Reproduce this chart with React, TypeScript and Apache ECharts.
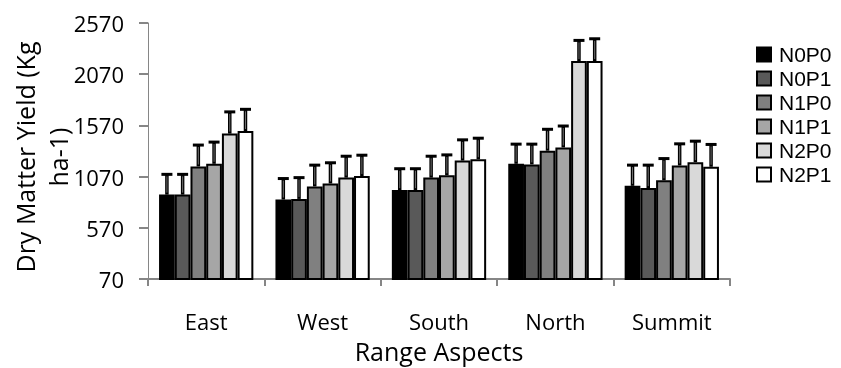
import React, { useEffect, useRef } from "react";
import * as echarts from "echarts";

const categories = ["East", "West", "South", "North", "Summit"];
const seriesNames = ["N0P0", "N0P1", "N1P0", "N1P1", "N2P0", "N2P1"];
const yTicks = [70, 570, 1070, 1570, 2070, 2570];

const n0p0 = [894, 846, 938, 1195, 980];
const n0p1 = [894, 852, 938, 1189, 958];
const n1p0 = [1169, 974, 1060, 1323, 1034];
const n1p1 = [1195, 1003, 1083, 1355, 1179];
const n2p0 = [1490, 1060, 1227, 2198, 1211];
const n2p1 = [1515, 1076, 1240, 2198, 1166];

const err0 = [198, 205, 209, 192, 202];
const err1 = [198, 208, 209, 198, 224];
const err2 = [209, 208, 209, 209, 212];
const err3 = [212, 202, 199, 209, 211];
const err4 = [212, 209, 202, 202, 205];
const err5 = [212, 203, 205, 218, 218];

const values = [n0p0, n0p1, n1p0, n1p1, n2p0, n2p1];
const errors = [err0, err1, err2, err3, err4, err5];
const colors = ["#000000", "#595959", "#808080", "#a6a6a6", "#d9d9d9", "#ffffff"];

const FONT = "Open Sans";
const LEGEND_FONT = "Liberation Sans";
const GAP = 0.19;

export default function App() {
  const ref = useRef<HTMLDivElement>(null);
  useEffect(() => {
    if (!ref.current) return;
    const chart = echarts.init(ref.current, undefined, { renderer: "svg" });
    const errData: number[][] = [];
    values.forEach((arr, s) => {
      arr.forEach((v, c) => {
        errData.push([c, s, v, v + errors[s][c]]);
      });
    });
    const barSeries = seriesNames.map((name, i) => ({
      name,
      type: "bar",
      data: values[i],
      barGap: "0%",
      barCategoryGap: GAP * 100 + "%",
      itemStyle: { color: colors[i], borderColor: "#000", borderWidth: 2 },
      z: 2,
    }));
    chart.setOption({
      animation: false,
      textStyle: { fontFamily: FONT, color: "#000" },
      grid: { left: 148, right: 111, top: 23, bottom: 86 },
      legend: {
        data: seriesNames,
        orient: "vertical",
        left: 756,
        top: 43,
        padding: 0,
        itemWidth: 14,
        itemHeight: 14,
        itemGap: 1,
        icon: "rect",
        textStyle: { fontSize: 21, lineHeight: 23, color: "#000", fontFamily: LEGEND_FONT, padding: [0, 0, 0, 3] },
      },
      xAxis: {
        type: "category",
        data: categories,
        axisLine: { lineStyle: { color: "#868686", width: 2 } },
        axisTick: { show: true, alignWithLabel: false, length: 7, lineStyle: { color: "#868686", width: 2 } },
        axisLabel: { fontSize: 22, color: "#000", margin: 31, fontFamily: FONT },
        name: "Range Aspects",
        nameLocation: "middle",
        nameGap: 59,
        nameTextStyle: { fontSize: 25, color: "#000", fontFamily: FONT },
      },
      yAxis: {
        type: "value",
        min: 70,
        max: 2570,
        splitLine: { show: false },
        axisLine: { show: true, lineStyle: { color: "#868686", width: 1 } },
        axisTick: { show: true, length: 9, customValues: yTicks, lineStyle: { color: "#868686", width: 2 } },
        axisLabel: {
          fontSize: 22,
          color: "#000",
          margin: 24,
          customValues: yTicks,
          fontFamily: FONT,
          formatter: (v: number) => String(v),
        },
      },
      graphic: [
        {
          type: "text",
          x: 41,
          y: 157,
          rotation: Math.PI / 2,
          style: {
            text: "Dry Matter Yield (Kg\nha-1)",
            fontSize: 25,
            fontFamily: FONT,
            lineHeight: 33,
            fill: "#000",
            textAlign: "center",
            textVerticalAlign: "middle",
          },
        },
      ],
      series: [
        ...barSeries,
        {
          type: "custom",
          name: "err",
          data: errData,
          encode: { x: 0, y: [2, 3] },
          z: 5,
          renderItem: (params: any, api: any) => {
            const cat = api.value(0);
            const s = api.value(1);
            const top = api.value(2);
            const hi = api.value(3);
            const band = api.size([1, 0])[0];
            const barW = (band * (1 - GAP)) / 6;
            const c = api.coord([cat, top]);
            const h = api.coord([cat, hi]);
            const x = c[0] + (s - 2.5) * barW;
            return {
              type: "group",
              children: [
                { type: "line", shape: { x1: x, y1: c[1], x2: x, y2: h[1] }, style: { stroke: "#000", lineWidth: 3.5 } },
                { type: "line", shape: { x1: x, y1: c[1] - 2, x2: x, y2: h[1] + 2 }, style: { stroke: "#6f6f6f", lineWidth: 1 } },
                { type: "line", shape: { x1: x - 5.5, y1: h[1], x2: x + 5.5, y2: h[1] }, style: { stroke: "#000", lineWidth: 3 } },
              ],
            };
          },
        },
      ],
    });
    return () => chart.dispose();
  }, []);
  return <div ref={ref} style={{ position: "fixed", left: 0, top: 0, width: 841, height: 368 }} />;
}
